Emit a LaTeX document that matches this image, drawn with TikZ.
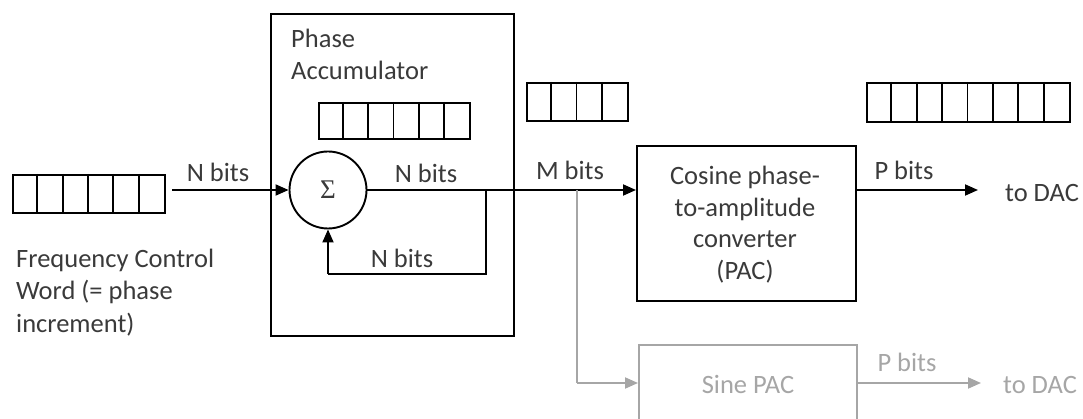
\documentclass[tikz,border=0pt]{standalone}
\usepackage{fontspec}
\setmainfont{Carlito}
\newfontfamily\sigmafont{Liberation Serif}
\usetikzlibrary{arrows.meta,calc}

\definecolor{txt}{HTML}{3A3A3A}
\definecolor{faint}{HTML}{A6A6A6}

\tikzset{
  wire/.style={line width=1.9pt, -{Triangle[length=13pt,width=11pt]}},
  plain/.style={line width=1.9pt},
  block/.style={draw, line width=1.9pt, rectangle, inner sep=0pt},
  lbl/.style={text=txt, inner sep=0pt, anchor=base, font=\fontsize{26.5}{32}\selectfont},
  regcell/.style={line width=1.9pt},
}

% register of n equal cells between (x1,y1) and (x2,y2)
\newcommand{\bitregister}[6]{%
  \node[block, anchor=north west, minimum width={(#4-#2)*1pt}, minimum height={(#5-#3)*1pt}] (#1) at (#2,#3) {};
  \pgfmathsetmacro{\cw}{(#4-#2)/#6}%
  \foreach \k in {1,...,\numexpr#6-1\relax}{%
    \draw[regcell] ($(#1.north west)+(\k*\cw,0)$) -- ($(#1.south west)+(\k*\cw,0)$);
  }%
}

\begin{document}
\begin{tikzpicture}[x=1pt, y=-1pt]
\useasboundingbox (0,0) rectangle (1083,419);
\clip (0,0) rectangle (1083,419);

% registers
\bitregister{fcw}{12}{174}{164}{212}{6}
\bitregister{accreg}{318}{102}{469}{138}{6}
\bitregister{mreg}{526}{82}{627}{120}{4}
\bitregister{preg}{866}{82}{1069}{121}{8}

% phase accumulator
\node[block, anchor=north west, minimum width=243pt, minimum height=322pt] (acc) at (270,13) {};
\node[lbl, anchor=base west] (acct1) at (291,48) {Phase};
\node[lbl, anchor=base west] (acct2) at (291,80) {Accumulator};

\node[draw, circle, line width=1.9pt, minimum size=77pt, inner sep=0pt] (sum) at (328,190)
  {\sigmafont\fontsize{27}{27}\selectfont\color{txt}Σ};

% converters
\node[block, anchor=north west, minimum width=219pt, minimum height=155pt] (cos) at (636,145) {};
\node[lbl] (cost1) at (745,185) {Cosine phase-};
\node[lbl] (cost2) at (745,216.5) {to-amplitude};
\node[lbl] (cost3) at (745,248) {converter};
\node[lbl] (cost4) at (745,279.5) {(PAC)};

\node[block, draw=faint, anchor=north west, minimum width=218pt, minimum height=120pt] (sin) at (638,344) {};
\node[lbl, text=faint] (sint) at (748,393) {Sine PAC};

% frequency control word caption
\node[lbl, anchor=base west] (fc1) at (16,268) {Frequency Control};
\node[lbl, anchor=base west] (fc2) at (16,300) {Word (= phase};
\node[lbl, anchor=base west] (fc3) at (16,332) {increment)};

% signal path
\coordinate (inend) at (172,190);
\draw[wire] (inend) -- (sum.west);
\node[lbl] (nin) at (218,182) {N bits};

\coordinate (tap) at (486,190);
\coordinate (split) at (577,190);
\draw[wire] (sum.east) -- (cos.west |- sum.east);
\node[lbl] (nout) at (426,183) {N bits};
\node[lbl] (mbits) at (570,180) {M bits};

\coordinate (fbr) at (486,274);
\coordinate (fbl) at (328,274);
\draw[plain] (tap) -- (fbr) -- (fbl);
\draw[wire] (fbl) -- (sum.south);
\node[lbl] (nfb) at (402,268) {N bits};

\coordinate (cosout) at (978,190);
\draw[wire] (cos.east |- cosout) -- (cosout);
\node[lbl] (pbits) at (904,180) {P bits};
\node[lbl] (dac1) at (1042,202) {to DAC};

% sine branch
\coordinate (sbend) at (577,383);
\coordinate (sinout) at (981,383);
\draw[faint, line width=1.9pt] (split) -- (sbend);
\draw[wire, faint] (sbend) -- (sin.west |- sbend);
\draw[wire, faint] (sin.east |- sinout) -- (sinout);
\node[lbl, text=faint] (pbits2) at (907,371) {P bits};
\node[lbl, text=faint] (dac2) at (1040,393) {to DAC};
\end{tikzpicture}
\end{document}
